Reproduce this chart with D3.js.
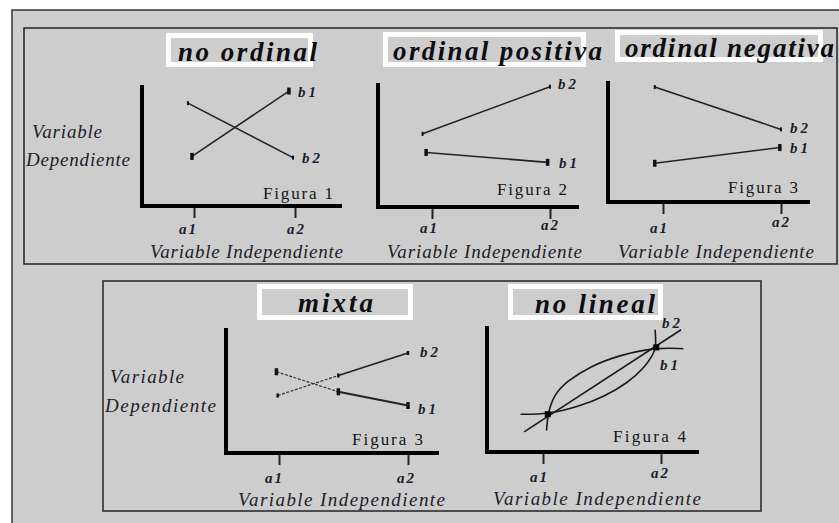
<!DOCTYPE html>
<html><head><meta charset="utf-8">
<script src="https://cdn.jsdelivr.net/npm/d3@7"></script>
<style>body{margin:0;background:#fff;} svg{display:block} text{font-family:"Liberation Serif","Tinos","Times New Roman",Times,serif;}</style>
</head><body><svg id="c" width="839" height="523"></svg>
<script>
// ---------- data ----------
const categories = ["a1", "a2"];
const categoryPos = [1, 2];
const seriesNames = ["b1", "b2"];
const panelTitles = ["no ordinal", "ordinal positiva", "ordinal negativa", "mixta", "no lineal"];
const figureLabels = ["Figura 1", "Figura 2", "Figura 3", "Figura 3", "Figura 4"];
const yAxisTitle = ["Variable", "Dependiente"];
const xAxisTitle = "Variable Independiente";

// points: [position on the a-axis, value in % of axis height]
const noOrdinalB1 = [[0.98, 41], [1.94, 95]];
const noOrdinalB2 = [[0.94, 85], [1.98, 40]];
const positivaB1 = [[0.95, 44], [1.98, 36]];
const positivaB2 = [[0.92, 59], [2.0, 97]];
const negativaB1 = [[0.93, 32], [1.99, 45]];
const negativaB2 = [[0.93, 95], [2.0, 60]];
const mixtaB1 = [[0.98, 65], [1.46, 49], [2.0, 38]];
const mixtaB2 = [[0.99, 46], [1.46, 62], [2.0, 80]];
const noLinealB1 = [[1.03, 17], [1.04, 30], [1.09, 45], [1.20, 56], [1.40, 68], [1.65, 77], [1.96, 83], [2.19, 82]];
const noLinealB2 = [[0.81, 30], [1.04, 30], [1.30, 36], [1.52, 44], [1.72, 55], [1.86, 67], [1.93, 77], [1.96, 83], [1.95, 97]];
const noLinealDiagonal = [[0.84, 16], [2.17, 97]];
const noLinealCrossings = [[1.04, 30], [1.96, 83]];

// ---------- layout ----------
const BG = "#cdcdcd";
const INK = "#1d1d2b";

const panels = [
  { title: panelTitles[0], fig: figureLabels[0], kind: "straight",
    series: [noOrdinalB1, noOrdinalB2],
    ax: { x0: 142, x1: 342, y0: 206, yTop: 85, a1: 194, a2: 295 },
    box: [166, 33, 313, 67], titleAt: [178, 61, 139],
    figAt: [263, 199, 70], xtAt: [150, 258, 193],
    ytAt: [[32, 138, 70], [26, 166, 104]],
    tickAt: [[-6, 28], [1, 28]],
    bAt: [[298, 97], [302, 163]] },
  { title: panelTitles[1], fig: figureLabels[1], kind: "straight",
    series: [positivaB1, positivaB2],
    ax: { x0: 378, x1: 579, y0: 207, yTop: 83, a1: 432, a2: 550 },
    box: [383, 32, 586, 67], titleAt: [393, 60, 209],
    figAt: [497, 195, 70], xtAt: [387, 258, 195],
    ytAt: null,
    tickAt: [[-3, 26], [0, 23]],
    bAt: [[559, 168], [558, 89]] },
  { title: panelTitles[2], fig: figureLabels[2], kind: "straight",
    series: [negativaB1, negativaB2],
    ax: { x0: 608, x1: 810, y0: 202, yTop: 81, a1: 663, a2: 781 },
    box: [615, 30, 823, 62], titleAt: [625, 57, 209],
    figAt: [728, 193, 70], xtAt: [618, 258, 196],
    ytAt: null,
    tickAt: [[-4, 31], [0, 25]],
    bAt: [[790, 153], [790, 133]] },
  { title: panelTitles[3], fig: figureLabels[3], kind: "mixed",
    series: [mixtaB1, mixtaB2],
    ax: { x0: 226, x1: 439, y0: 453, yTop: 328, a1: 279, a2: 408 },
    box: [257, 284, 413, 320], titleAt: [298, 312, 75],
    figAt: [352, 445, 71], xtAt: [238, 506, 207],
    ytAt: [[110, 383, 74], [105, 412, 111]],
    tickAt: [[-5, 30], [-2, 30]],
    bAt: [[418, 414], [420, 357]] },
  { title: panelTitles[4], fig: figureLabels[4], kind: "curve",
    series: [noLinealB1, noLinealB2],
    ax: { x0: 487, x1: 699, y0: 452, yTop: 326, a1: 543, a2: 661 },
    box: [508, 284, 663, 320], titleAt: [535, 313, 120],
    figAt: [613, 442, 73], xtAt: [493, 505, 208],
    ytAt: null,
    tickAt: [[-4, 30], [-1, 26]],
    bAt: [[660, 370], [662, 328]] }
];

const svg = d3.select("#c");

svg.append("rect").attr("x", 0).attr("y", 0).attr("width", 839).attr("height", 523).attr("fill", "#fff");
svg.append("rect").attr("x", 12).attr("y", 10).attr("width", 840).attr("height", 530)
  .attr("fill", BG).attr("stroke", "#333").attr("stroke-width", 1.5);
svg.append("rect").attr("x", 24).attr("y", 28).attr("width", 813).attr("height", 236)
  .attr("fill", "none").attr("stroke", "#222").attr("stroke-width", 1.5);
svg.append("rect").attr("x", 103).attr("y", 281).attr("width", 658).attr("height", 230)
  .attr("fill", "none").attr("stroke", "#222").attr("stroke-width", 1.5);

function txt(g, s, x, y, len, opts) {
  const t = g.append("text").attr("x", x).attr("y", y).text(s)
    .style("font-size", opts.size + "px")
    .style("font-style", opts.italic ? "italic" : "normal")
    .style("font-weight", opts.bold ? "bold" : "normal")
    .attr("fill", opts.fill || INK);
  if (len) t.attr("textLength", len).attr("lengthAdjust", "spacing");
  return t;
}

panels.forEach(p => {
  const g = svg.append("g");
  const a = p.ax;
  const x = d3.scaleLinear().domain(categoryPos).range([a.a1, a.a2]);
  const y = d3.scaleLinear().domain([0, 100]).range([a.y0, a.yTop]);

  const [bx0, by0, bx1, by1] = p.box;
  g.append("rect").attr("x", bx0 + 2.5).attr("y", by0 + 2.5)
    .attr("width", bx1 - bx0 - 5).attr("height", by1 - by0 - 5)
    .attr("fill", BG).attr("stroke", "#fff").attr("stroke-width", 5);
  txt(g, p.title, p.titleAt[0], p.titleAt[1], p.titleAt[2], { size: 27, italic: true, bold: true, fill: "#0d0d14" });

  const axis = d3.axisBottom(x).tickValues(categoryPos)
    .tickFormat((d, i) => categories[i]).tickSize(12).tickSizeOuter(0);
  const ag = g.append("g").attr("transform", `translate(0,${a.y0})`).call(axis);
  ag.attr("font-family", null).attr("font-size", null);
  ag.select(".domain").remove();
  ag.selectAll(".tick line").attr("stroke", "#222").attr("stroke-width", 2);
  ag.selectAll(".tick text")
    .attr("dy", null)
    .attr("x", (d, i) => p.tickAt[i][0])
    .attr("y", (d, i) => p.tickAt[i][1])
    .style("font-size", "15px")
    .style("font-style", "italic").style("font-weight", "bold")
    .attr("fill", INK).attr("letter-spacing", 2);

  g.append("line").attr("x1", a.x0).attr("x2", a.x0).attr("y1", a.yTop).attr("y2", a.y0 + 2)
    .attr("stroke", "#000").attr("stroke-width", 4);
  g.append("line").attr("x1", a.x0 - 2).attr("x2", a.x1).attr("y1", a.y0).attr("y2", a.y0)
    .attr("stroke", "#000").attr("stroke-width", 4);

  txt(g, xAxisTitle, p.xtAt[0], p.xtAt[1], p.xtAt[2], { size: 19, italic: true });
  if (p.ytAt) {
    yAxisTitle.forEach((s, i) => txt(g, s, p.ytAt[i][0], p.ytAt[i][1], p.ytAt[i][2], { size: 19, italic: true }));
  }
  txt(g, p.fig, p.figAt[0], p.figAt[1], p.figAt[2], { size: 17, fill: "#151515" });

  const line = d3.line().x(d => x(d[0])).y(d => y(d[1]));

  if (p.kind === "straight") {
    p.series.forEach((s, si) => {
      g.append("path").attr("d", line(s)).attr("fill", "none")
        .attr("stroke", "#222").attr("stroke-width", 1.6);
      const w = si === 0 ? 3.5 : 2, h = si === 0 ? 7 : 4;
      g.selectAll(null).data(s).join("rect")
        .attr("x", d => x(d[0]) - w / 2).attr("y", d => y(d[1]) - h / 2)
        .attr("width", w).attr("height", h).attr("fill", "#111");
    });
  } else if (p.kind === "mixed") {
    p.series.forEach((s, si) => {
      g.append("path").attr("d", line(s.slice(0, 2))).attr("fill", "none")
        .attr("stroke", "#333").attr("stroke-width", 1.2).attr("stroke-dasharray", "3,1.5");
      g.append("path").attr("d", line(s.slice(1))).attr("fill", "none")
        .attr("stroke", "#222").attr("stroke-width", 1.8);
      const w = si === 0 ? 3.5 : 2.5, h = si === 0 ? 7 : 4;
      g.selectAll(null).data(s).join("rect")
        .attr("x", d => x(d[0]) - w / 2).attr("y", d => y(d[1]) - h / 2)
        .attr("width", w).attr("height", h).attr("fill", "#111");
    });
  } else {
    const curve = d3.line().x(d => x(d[0])).y(d => y(d[1])).curve(d3.curveBasis);
    p.series.forEach(s => {
      g.append("path").attr("d", curve(s)).attr("fill", "none")
        .attr("stroke", "#1a1a1a").attr("stroke-width", 1.6);
    });
    g.append("path").attr("d", line(noLinealDiagonal)).attr("fill", "none")
      .attr("stroke", "#1a1a1a").attr("stroke-width", 1.6);
    g.selectAll(null).data(noLinealCrossings).join("rect")
      .attr("x", d => x(d[0]) - 3).attr("y", d => y(d[1]) - 3)
      .attr("width", 6).attr("height", 6).attr("fill", "#000");
  }

  seriesNames.forEach((n, i) => {
    txt(g, n, p.bAt[i][0], p.bAt[i][1], 18, { size: 15, italic: true, bold: true });
  });
});
</script>
</body></html>
